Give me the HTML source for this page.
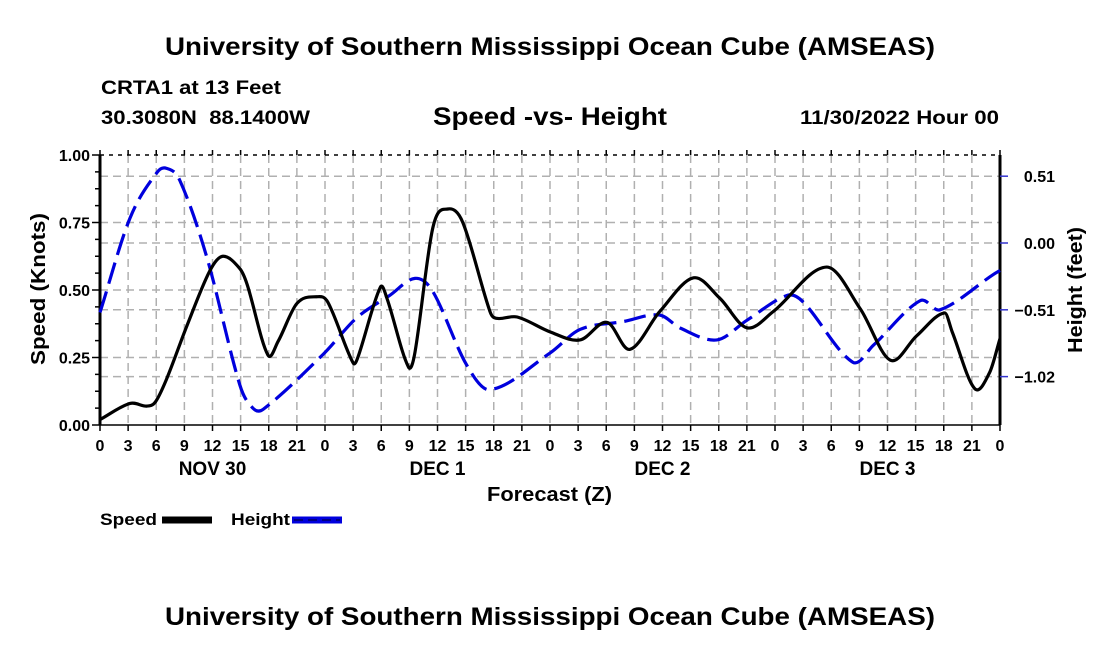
<!DOCTYPE html>
<html><head><meta charset="utf-8"><style>
html,body{margin:0;padding:0;background:#fff;}
svg{display:block;font-family:"Liberation Sans",Arial,sans-serif;font-weight:bold;}
</style></head><body>
<svg id="chart" width="1100" height="650" viewBox="0 0 1100 650" xmlns="http://www.w3.org/2000/svg">
<text x="165" y="55" font-size="25" textLength="770" lengthAdjust="spacingAndGlyphs">University of Southern Mississippi Ocean Cube (AMSEAS)</text>
<text x="101" y="94" font-size="19" textLength="180" lengthAdjust="spacingAndGlyphs">CRTA1 at 13 Feet</text>
<text x="101" y="124" font-size="19" textLength="209" lengthAdjust="spacingAndGlyphs">30.3080N&#160;&#160;88.1400W</text>
<text x="433" y="125" font-size="25" textLength="234" lengthAdjust="spacingAndGlyphs">Speed -vs- Height</text>
<text x="800" y="124" font-size="19" textLength="199" lengthAdjust="spacingAndGlyphs">11/30/2022 Hour 00</text>
<g id="grid"></g>
<g id="axes"></g>
<g id="series"></g>
<text x="487" y="501" font-size="20" textLength="125" lengthAdjust="spacingAndGlyphs">Forecast (Z)</text>
<text transform="translate(45,365) rotate(-90)" font-size="20" textLength="152" lengthAdjust="spacingAndGlyphs">Speed (Knots)</text>
<text transform="translate(1082,353) rotate(-90)" font-size="20" textLength="126" lengthAdjust="spacingAndGlyphs">Height (feet)</text>
<g>
<text x="100" y="525" font-size="17" textLength="57" lengthAdjust="spacingAndGlyphs">Speed</text>
<line x1="162" y1="520" x2="212" y2="520" stroke="#000" stroke-width="7"/>
<text x="231" y="525" font-size="17" textLength="59" lengthAdjust="spacingAndGlyphs">Height</text>
<line x1="292" y1="520" x2="342" y2="520" stroke="#0000dd" stroke-width="7"/>
<line x1="294" y1="520" x2="340" y2="520" stroke="#000066" stroke-width="1.5" stroke-dasharray="9,5"/>
</g>
<text x="165" y="625" font-size="25" textLength="770" lengthAdjust="spacingAndGlyphs">University of Southern Mississippi Ocean Cube (AMSEAS)</text>
</svg>
<script>
const speedHours=[0,3.2,5,5.9,7.1,9.3,11.7,13.1,14.9,15.7,17.9,19,21,23.1,24.3,27,27.5,29.9,30.6,32.9,33.6,35.5,37.1,38.7,41.6,42.3,44.5,48,51.2,54.1,56.5,59.7,63.3,66.1,69,71.8,77.5,81.1,84.3,87.1,90.1,90.9,93.3,94.9,96];
const speedValues=[0.02,0.08,0.07,0.085,0.17,0.37,0.57,0.625,0.58,0.52,0.26,0.31,0.45,0.475,0.455,0.23,0.25,0.51,0.47,0.215,0.27,0.73,0.80,0.75,0.42,0.395,0.40,0.345,0.315,0.38,0.28,0.42,0.545,0.47,0.36,0.42,0.585,0.43,0.24,0.33,0.415,0.345,0.135,0.195,0.32];
const heightHours=[0,3.2,6.1,7.1,8.5,11.4,14.9,16.3,17.4,23.8,27.4,30.9,33.6,35.5,39.1,41.6,48,51.2,55.8,59.7,61.9,65.8,69,73.3,75,80.3,82.5,87.5,89.6,95.3,96];
const heightValues=[-0.53,0.19,0.54,0.57,0.48,-0.11,-1.08,-1.26,-1.27,-0.85,-0.57,-0.40,-0.27,-0.37,-0.93,-1.12,-0.84,-0.66,-0.60,-0.55,-0.65,-0.74,-0.59,-0.40,-0.45,-0.91,-0.78,-0.44,-0.51,-0.24,-0.21];
const speedTicks=[0,0.25,0.5,0.75,1.0];
const speedTickLabels=["0.00","0.25","0.50","0.75","1.00"];
const heightTicks=[0.51,0,-0.51,-1.02];
const heightTickLabels=["0.51","0.00","\u22120.51","\u22121.02"];
const hourTickLabels=["0","3","6","9","12","15","18","21"];
const dayLabels=["NOV 30","DEC 1","DEC 2","DEC 3"];

const L=100,R=1000,T=155,B=425,NS="http://www.w3.org/2000/svg";
const xs=h=>L+h*(R-L)/96;
const ys=v=>B-v*(B-T)/1.0;
const yh=v=>243-v*131;
function mk(tag,attrs,parent){const e=document.createElementNS(NS,tag);for(const k in attrs)e.setAttribute(k,attrs[k]);parent.appendChild(e);return e;}
const grid=document.getElementById('grid'),axes=document.getElementById('axes'),series=document.getElementById('series');
const gs={stroke:"#b0b0b0","stroke-width":1.5,"stroke-dasharray":"8,5"};
for(let h=3;h<96;h+=3){const l=mk('line',Object.assign({x1:xs(h),x2:xs(h),y1:T,y2:B},gs),grid);

}
speedTicks.forEach(v=>{if(v>0&&v<1){const l=mk('line',Object.assign({x1:L,x2:R,y1:ys(v),y2:ys(v)},gs),grid);

}});
heightTicks.forEach(v=>{const l=mk('line',Object.assign({x1:L,x2:R,y1:yh(v),y2:yh(v)},gs),grid);

});
let a=mk('line',{x1:L,x2:L,y1:T,y2:B,stroke:"#000","stroke-width":3},axes);

a=mk('line',{x1:R,x2:R,y1:T,y2:B,stroke:"#000","stroke-width":3},axes);

a=mk('line',{x1:L,x2:R,y1:B,y2:B,stroke:"#000","stroke-width":1.5},axes);

a=mk('line',{x1:L,x2:R,y1:T,y2:T,stroke:"#000","stroke-width":1.5,"stroke-dasharray":"4,5"},axes);

for(let h=0;h<=96;h+=3){const t=mk('line',{x1:xs(h),x2:xs(h),y1:B,y2:B+6,stroke:"#000","stroke-width":1.5},axes);

const t2=mk('line',{x1:xs(h),x2:xs(h),y1:T,y2:T-5,stroke:"#000","stroke-width":1.5},axes);

const tx=mk('text',{x:xs(h),y:B+26,"text-anchor":"middle","font-size":16},axes);
tx.textContent=hourTickLabels[(h/3)%8];

}
dayLabels.forEach((d,i)=>{const tx=mk('text',{x:xs(12+24*i),y:B+50,"text-anchor":"middle","font-size":19},axes);
tx.textContent=d;

});
for(let v=0;v<=1.0001;v+=0.0625){const maj=Math.abs(v*4-Math.round(v*4))<1e-6;
const t=mk('line',{x1:L-(maj?8:5),x2:L,y1:ys(v),y2:ys(v),stroke:"#000","stroke-width":1.5},axes);
}
speedTicks.forEach((v,i)=>{const tx=mk('text',{x:L-10,y:ys(v)+6,"text-anchor":"end","font-size":16},axes);
tx.textContent=speedTickLabels[i];

});
heightTicks.forEach((v,i)=>{const t=mk('line',{x1:R,x2:R+8,y1:yh(v),y2:yh(v),stroke:"#3333cc","stroke-width":1.5},axes);

const tx=mk('text',{x:1055,y:yh(v)+6,"text-anchor":"end","font-size":16},axes);
tx.textContent=heightTickLabels[i];

});
function smooth(pts){const n=pts.length,m=[];
for(let i=0;i<n;i++){const a=pts[Math.max(0,i-1)],b=pts[Math.min(n-1,i+1)];m.push((b[1]-a[1])/(b[0]-a[0]));}
let d=`M${pts[0][0]},${pts[0][1]}`;
for(let i=0;i<n-1;i++){const p1=pts[i],p2=pts[i+1],dx=(p2[0]-p1[0])/3;
d+=`C${p1[0]+dx},${p1[1]+m[i]*dx} ${p2[0]-dx},${p2[1]-m[i+1]*dx} ${p2[0]},${p2[1]}`;}return d;}
const hp=mk('path',{d:smooth(heightHours.map((h,i)=>[xs(h),yh(heightValues[i])])),fill:"none",stroke:"#0000dd","stroke-width":3.2,"stroke-dasharray":"22,8"},series);


const sp=mk('path',{d:smooth(speedHours.map((h,i)=>[xs(h),ys(speedValues[i])])),fill:"none",stroke:"#000","stroke-width":3.2},series);


</script>
</body></html>
